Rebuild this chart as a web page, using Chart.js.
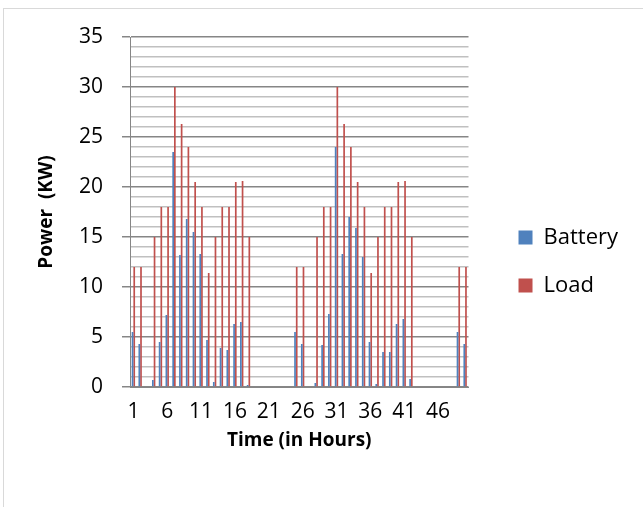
<!DOCTYPE html>
<html>
<head>
<meta charset="utf-8">
<title>Battery and Load Power</title>
<script src="https://cdn.jsdelivr.net/npm/chart.js@4/dist/chart.umd.min.js"></script>
<style>
  body { margin: 0; background: #fff; overflow: hidden; }
  #wrap { position: relative; width: 643px; height: 507px; }
  #frame { position: absolute; left: 3px; top: 8px; width: 700px; height: 600px; border: 1px solid #d9d9d9; pointer-events: none; }
  canvas { position: absolute; left: 0; top: 0; }
</style>
</head>
<body>
<div id="wrap">
  <canvas id="powerChart" width="643" height="507"></canvas>
  <div id="frame"></div>
</div>
<script>
// hours 1..50
const hours = [];
for (let h = 1; h <= 50; h++) hours.push(String(h));

const batteryKW = [5.5, 4.3, 0, 0.7, 4.5, 7.2, 23.5, 13.2, 16.8, 15.5, 13.3, 4.7, 0.5, 3.9, 3.7, 6.3, 6.5, 0.2, 0, 0, 0, 0, 0, 0,
                   5.5, 4.3, 0, 0.4, 4.2, 7.3, 24, 13.3, 17, 15.9, 13, 4.5, 0.3, 3.5, 3.5, 6.3, 6.8, 0.8, 0, 0, 0, 0, 0, 0,
                   5.5, 4.3];
const loadKW = [12, 12, 0, 15, 18, 18, 30, 26.3, 24, 20.5, 18, 11.4, 15, 18, 18, 20.5, 20.6, 15, 0, 0, 0, 0, 0, 0,
                12, 12, 0, 15, 18, 18, 30, 26.3, 24, 20.5, 18, 11.4, 15, 18, 18, 20.5, 20.6, 15, 0, 0, 0, 0, 0, 0,
                12, 12];

const yMax = 35;
const labelEvery = 5;

const FONT = "'Open Sans', 'Liberation Sans', sans-serif";

// push the legend entries a bit right/down inside their box
const LEGEND_DX = 24, LEGEND_DY = 17;
const legendShift = {
  id: 'legendShift',
  beforeDraw(chart) {
    const lg = chart.legend;
    if (!lg || lg._shifted) return;
    const draw = lg.draw;
    lg.draw = function() {
      this.left += LEGEND_DX; this.right += LEGEND_DX;
      this.top += LEGEND_DY; this.bottom += LEGEND_DY;
      draw.call(this);
      this.left -= LEGEND_DX; this.right -= LEGEND_DX;
      this.top -= LEGEND_DY; this.bottom -= LEGEND_DY;
    };
    lg._shifted = true;
  }
};

const ctx = document.getElementById('powerChart').getContext('2d');
const powerChart = new Chart(ctx, {
  type: 'bar',
  data: {
    labels: hours,
    datasets: [
      { label: 'Battery', data: batteryKW, backgroundColor: '#4F81BD', categoryPercentage: 0.5, barPercentage: 1 },
      { label: 'Load', data: loadKW, backgroundColor: '#C0504D', categoryPercentage: 0.5, barPercentage: 1 }
    ]
  },
  options: {
    responsive: false,
    animation: false,
    layout: { padding: { left: 0, top: 37, right: 39, bottom: 55 } },
    plugins: {
      tooltip: { enabled: false },
      legend: {
        position: 'right',
        labels: {
          boxWidth: 14,
          boxHeight: 14,
          padding: 26,
          color: '#000',
          font: { family: FONT, size: 22 }
        }
      }
    },
    scales: {
      x: {
        grid: { display: false, drawTicks: false },
        border: { color: '#868686', width: 1 },
        ticks: {
          autoSkip: false,
          maxRotation: 0,
          padding: 12,
          color: '#000',
          font: { family: FONT, size: 21 },
          callback: function(value, index) {
            return index % labelEvery === 0 ? this.getLabelForValue(value) : '';
          }
        },
        title: {
          display: true,
          text: 'Time (in Hours)',
          color: '#000',
          font: { family: FONT, size: 19, weight: 'bold' },
          padding: { top: -7, bottom: 0 }
        }
      },
      y: {
        min: 0,
        max: yMax,
        afterFit: function(scale) { scale.width = 130; },
        border: { color: '#868686', width: 1 },
        grid: {
          // darker line every 5 kW, light line every 1 kW
          color: c => c.tick.value % 5 === 0 ? '#868686' : '#C0C0C0',
          tickColor: c => c.tick.value % 5 === 0 ? '#868686' : 'rgba(0,0,0,0)',
          tickLength: 8,
          lineWidth: 1.5
        },
        ticks: {
          stepSize: 1,
          autoSkip: false,
          padding: 19,
          color: '#000',
          font: { family: FONT, size: 21 },
          callback: v => v % 5 === 0 ? v : ''
        },
        title: {
          display: true,
          text: 'Power  (KW)',
          color: '#000',
          font: { family: FONT, size: 19, weight: 'bold' },
          padding: { top: 35 }
        }
      }
    }
  },
  plugins: [legendShift]
});
</script>
</body>
</html>
